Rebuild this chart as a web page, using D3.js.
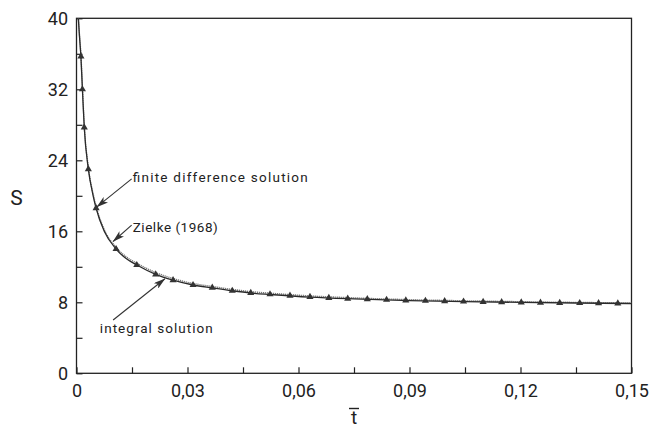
<!DOCTYPE html>
<html>
<head>
<meta charset="utf-8">
<script src="https://cdn.jsdelivr.net/npm/d3@7"></script>
<style>
  html, body { margin: 0; padding: 0; background: #ffffff; }
  svg { display: block; }
  text { font-family: Roboto, "DejaVu Sans", sans-serif; fill: #222; }
</style>
</head>
<body>
<svg id="chart" width="657" height="428"></svg>
<script>
// Dimensionless time t̄ and shape factor S

// Integral solution (triangles)
const integralT = [0.0012, 0.0016, 0.0021, 0.0032, 0.0053, 0.0107, 0.0163, 0.0214, 0.0261, 0.0315,
  0.0367, 0.0421, 0.0471, 0.0523, 0.0577, 0.0631, 0.0682, 0.0733, 0.0786, 0.0838, 0.0890, 0.0943,
  0.0995, 0.1046, 0.1099, 0.1149, 0.1202, 0.1254, 0.1306, 0.1360, 0.1411, 0.1463];
const integralS = [35.7, 32.0, 27.7, 23.0, 18.6, 14.0, 12.2, 11.15, 10.5, 9.95,
  9.65, 9.3, 9.05, 8.9, 8.75, 8.6, 8.5, 8.42, 8.35, 8.28, 8.22, 8.17,
  8.13, 8.09, 8.05, 8.02, 7.99, 7.96, 7.94, 7.92, 7.9, 7.88];

// Finite difference solution (solid line)
const fdT = [0.0005, 0.0008, 0.0012, 0.0016, 0.0021, 0.0032, 0.0045, 0.0053, 0.0075, 0.0107,
  0.0135, 0.0163, 0.0214, 0.0261, 0.0315, 0.0367, 0.0421, 0.0471, 0.0523, 0.0631,
  0.075, 0.09, 0.105, 0.12, 0.135, 0.15];
const fdS = [40, 38.0, 35.6, 32.0, 27.7, 23.0, 20.0, 18.6, 16.0, 14.0,
  12.9, 12.2, 11.15, 10.5, 9.95, 9.62, 9.3, 9.05, 8.88, 8.58,
  8.38, 8.2, 8.08, 7.99, 7.92, 7.86];

// Zielke (1968) (dotted line)
const zielkeT = [0.0005, 0.0008, 0.0012, 0.0016, 0.0021, 0.0032, 0.0045, 0.0053, 0.0075, 0.0107,
  0.0135, 0.0163, 0.0214, 0.0261, 0.0315, 0.0367, 0.0421, 0.0471, 0.0523, 0.0631,
  0.075, 0.09, 0.105, 0.12, 0.135, 0.15];
const zielkeS = [40, 38.2, 35.8, 32.2, 27.9, 23.2, 20.2, 18.8, 16.2, 14.2,
  13.1, 12.4, 11.35, 10.68, 10.12, 9.78, 9.45, 9.2, 9.03, 8.72,
  8.5, 8.3, 8.17, 8.07, 7.99, 7.93];

// Axis ticks
const xTicks = [0, 0.015, 0.03, 0.045, 0.06, 0.075, 0.09, 0.105, 0.12, 0.135, 0.15];
const xTickLabels = ["0", "", "0,03", "", "0,06", "", "0,09", "", "0,12", "", "0,15"];
const yTicks = [0, 4, 8, 12, 16, 20, 24, 28, 32, 36, 40];
const yTickLabels = ["0", "", "8", "", "16", "", "24", "", "32", "", "40"];

// Annotations: label, text anchor point (t, S), arrow tail and tip (t, S)
const annLabels = ["finite difference solution", "Zielke (1968)", "integral solution"];
const annTextPos = [[0.0152, 21.6], [0.0152, 15.9], [0.0063, 4.55]];
const annTextLen = [175, 85, 113];
const annTail = [[0.0149, 21.9], [0.0149, 16.7], [0.0099, 6.0]];
const annTip = [[0.0055, 18.75], [0.0099, 14.85], [0.0239, 10.65]];

const svg = d3.select("#chart");
const margin = { left: 76.5, top: 18.3, right: 657 - 631.5, bottom: 428 - 373.3 };
const W = 657 - margin.left - margin.right;
const H = 428 - margin.top - margin.bottom;

const x = d3.scaleLinear().domain([0, 0.15]).range([0, W]);
const y = d3.scaleLinear().domain([0, 40]).range([H, 0]);

const defs = svg.append("defs");
defs.append("marker")
  .attr("id", "arrowhead")
  .attr("viewBox", "0 0 12 7")
  .attr("refX", 11.5).attr("refY", 3.5)
  .attr("markerWidth", 12).attr("markerHeight", 7)
  .attr("markerUnits", "userSpaceOnUse")
  .attr("orient", "auto")
  .append("path")
  .attr("d", "M0,0 L12,3.5 L0,7 L3,3.5 Z")
  .attr("fill", "#333");

const clip = defs.append("clipPath").attr("id", "plotclip");
clip.append("rect").attr("x", 0).attr("y", 0).attr("width", W).attr("height", H);

const g = svg.append("g").attr("transform", `translate(${margin.left},${margin.top})`);

// Axes with inward ticks
const yAxis = d3.axisLeft(y)
  .tickValues(yTicks)
  .tickSizeInner(-6).tickSizeOuter(0)
  .tickPadding(8.5)
  .tickFormat((d, i) => yTickLabels[i]);
const xAxis = d3.axisBottom(x)
  .tickValues(xTicks)
  .tickSizeInner(-6).tickSizeOuter(0)
  .tickPadding(10.5)
  .tickFormat((d, i) => xTickLabels[i]);

const gy = g.append("g").call(yAxis);
const gx = g.append("g").attr("transform", `translate(0,${H})`).call(xAxis);
[gx, gy].forEach(a => {
  a.select(".domain").remove();
  a.selectAll(".tick line").attr("stroke", "#222").attr("stroke-width", 1.2);
  a.selectAll(".tick text").attr("font-size", 18).attr("fill", "#222");
});
gy.selectAll(".tick text").attr("dy", "0.36em");

// Frame
g.append("rect")
  .attr("x", 0).attr("y", 0).attr("width", W).attr("height", H)
  .attr("fill", "none").attr("stroke", "#222").attr("stroke-width", 1.3);

// Curves
const line = d3.line().curve(d3.curveMonotoneX).x(d => x(d[0])).y(d => y(d[1]));
const plot = g.append("g").attr("clip-path", "url(#plotclip)");

plot.append("path")
  .datum(d3.zip(zielkeT, zielkeS))
  .attr("d", line)
  .attr("fill", "none")
  .attr("stroke", "#777")
  .attr("stroke-width", 1.4)
  .attr("stroke-dasharray", "1.2,0.8");

plot.append("path")
  .datum(d3.zip(fdT, fdS))
  .attr("d", line)
  .attr("fill", "none")
  .attr("stroke", "#2a2a2a")
  .attr("stroke-width", 1.3);

plot.selectAll(".tri")
  .data(d3.zip(integralT, integralS))
  .join("path")
  .attr("class", "tri")
  .attr("transform", d => `translate(${x(d[0])},${y(d[1])})`)
  .attr("d", d3.symbol(d3.symbolTriangle).size(22))
  .attr("fill", "#333");

// Annotations
annLabels.forEach((label, i) => {
  g.append("line")
    .attr("x1", x(annTail[i][0])).attr("y1", y(annTail[i][1]))
    .attr("x2", x(annTip[i][0])).attr("y2", y(annTip[i][1]))
    .attr("stroke", "#333").attr("stroke-width", 1.1)
    .attr("marker-end", "url(#arrowhead)");
  g.append("text")
    .attr("x", x(annTextPos[i][0])).attr("y", y(annTextPos[i][1]))
    .attr("font-size", 13.5)
    .attr("textLength", annTextLen[i])
    .attr("lengthAdjust", "spacing")
    .text(label);
});

// Axis titles
svg.append("text")
  .attr("x", 16.5).attr("y", 205)
  .attr("text-anchor", "middle")
  .attr("font-size", 21)
  .text("S");

const tx = margin.left + W / 2;
svg.append("text")
  .attr("x", tx).attr("y", 424)
  .attr("text-anchor", "middle")
  .attr("font-size", 19)
  .text("t");
svg.append("line")
  .attr("x1", tx - 5).attr("x2", tx + 5)
  .attr("y1", 408.5).attr("y2", 408.5)
  .attr("stroke", "#222").attr("stroke-width", 1.4);
</script>
</body>
</html>
